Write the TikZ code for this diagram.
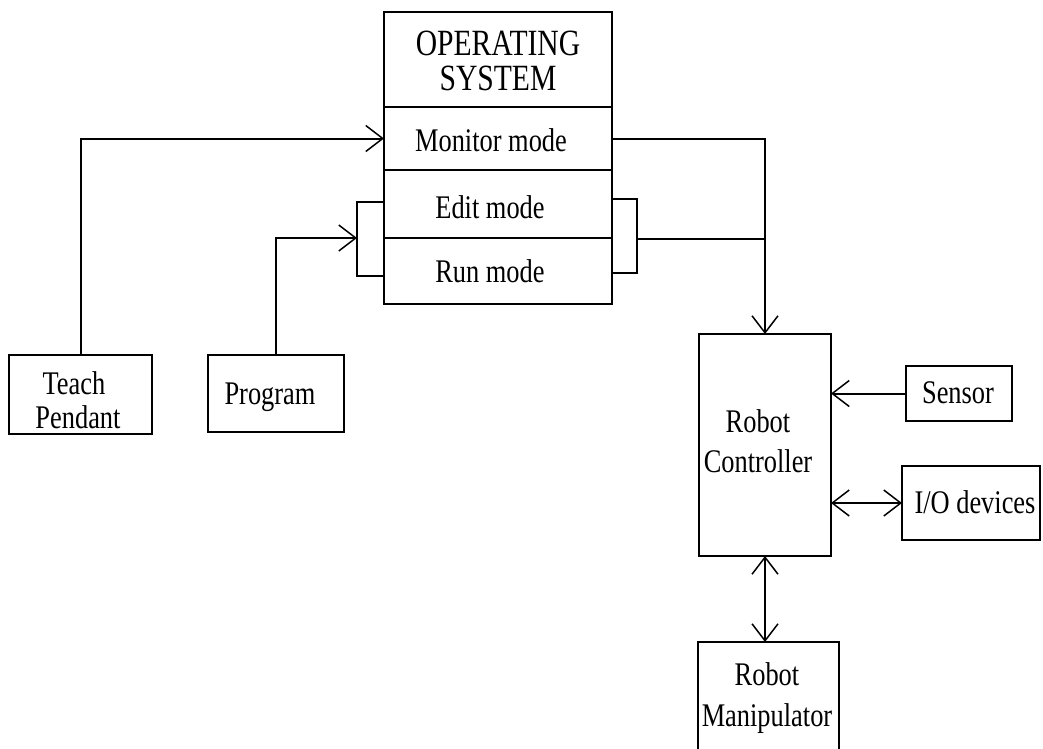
\documentclass[tikz,border=0pt]{standalone}
\usepackage{fontspec}
\setmainfont{Liberation Serif}[FakeStretch=0.8]
\usetikzlibrary{arrows.meta}
\begin{document}
\begin{tikzpicture}[x=1pt,y=-1pt,line width=2pt,
  >={Straight Barb[length=17pt,width=26pt,line width=1.5pt]},
  box/.style={draw,rectangle,inner sep=0pt,outer sep=0pt,line width=2pt},
  txt/.style={anchor=base,inner sep=0pt,font=\fontsize{33}{29}\selectfont},
  big/.style={anchor=base,inner sep=0pt,font=\fontsize{37}{32}\selectfont}]
\useasboundingbox (0,0) rectangle (1043,748);
\clip (0,0) rectangle (1043,748);
\fill[white] (0,0) rectangle (1043,748);
% operating system stack
\node[box,minimum width=228pt,minimum height=95pt] (os) at (498,59.5) {};
\node[box,minimum width=228pt,minimum height=63pt] (mon) at (498,138.5) {};
\node[box,minimum width=228pt,minimum height=68pt] (edit) at (498,204) {};
\node[box,minimum width=228pt,minimum height=66pt] (run) at (498,271) {};
\node[big] (ost1) at (498,55) {OPERATING};
\node[big] (ost2) at (498,90) {SYSTEM};
\node[txt] (mont) at (491,151) {Monitor mode};
\node[txt] (editt) at (490,218) {Edit mode};
\node[txt] (runt) at (490,282) {Run mode};
% inputs
\node[box,minimum width=143pt,minimum height=79pt] (tp) at (80.5,394.5) {};
\node[txt] (tpt1) at (74,394) {Teach};
\node[txt] (tpt2) at (78,428) {Pendant};
\node[box,minimum width=136pt,minimum height=77pt] (prog) at (276,393.5) {};
\node[txt] (progt) at (270,404) {Program};
% controller side
\node[box,minimum width=132pt,minimum height=222pt] (ctrl) at (765,445) {};
\node[txt] (ctrlt1) at (758,432) {Robot};
\node[txt] (ctrlt2) at (758,472) {Controller};
\node[box,minimum width=106pt,minimum height=55pt] (sens) at (959,393.5) {};
\node[txt] (senst) at (958,403) {Sensor};
\node[box,minimum width=138pt,minimum height=74pt] (io) at (971,503) {};
\node[txt] (iot) at (975,513) {I/O devices};
\node[box,minimum width=141pt,minimum height=128pt] (man) at (768.5,706) {};
\node[txt] (mant1) at (767,685) {Robot};
\node[txt] (mant2) at (767,726) {Manipulator};
% brackets
\coordinate (lbt) at (357,202);
\coordinate (lbb) at (357,276);
\coordinate (lbm) at (357,238);
\coordinate (rbt) at (637,199);
\coordinate (rbb) at (637,273);
\coordinate (rbm) at (637,239);
\draw (edit.west |- lbt) -- (lbt) -- (lbb) -- (run.west |- lbb);
\draw (edit.east |- rbt) -- (rbt) -- (rbb) -- (run.east |- rbb);
% connectors
\draw[->] (tp.north) |- (mon.west);
\draw[->] (prog.north) |- (lbm);
\draw (rbm) -- (rbm -| ctrl.north);
\draw[->] (mon.east) -| (ctrl.north);
\draw[->] (sens.west) -- (ctrl.east |- sens.west);
\draw[<->] (ctrl.east |- io.west) -- (io.west);
\draw[<->] (ctrl.south) -- (ctrl.south |- man.north);
\end{tikzpicture}
\end{document}
